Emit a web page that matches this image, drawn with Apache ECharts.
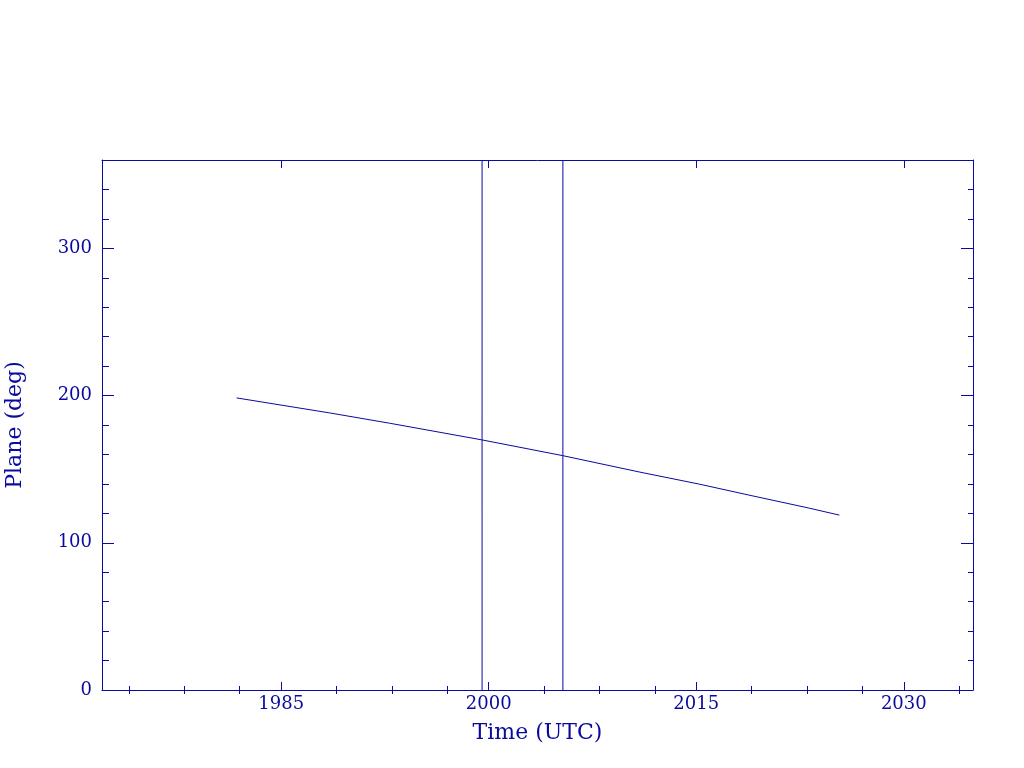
<!DOCTYPE html>
<html>
<head>
<meta charset="utf-8">
<script src="https://cdn.jsdelivr.net/npm/echarts@6/dist/echarts.min.js"></script>
<style>
  html, body { margin: 0; padding: 0; background: #ffffff; }
  #chart { width: 1024px; height: 768px; }
</style>
</head>
<body>
<div id="chart"></div>
<script>
// ---- data ----
const years = [1981.78, 1988.51, 1992.84, 1999.50, 2005.34, 2010.87, 2015.19, 2018.80, 2023.13, 2025.34];
const planeDeg = [198.4, 188.2, 181.2, 169.9, 159.2, 148.1, 139.9, 132.4, 123.6, 118.8];
const markerYears = [1999.52, 2005.36];
const xMajorTicks = [1985, 2000, 2015, 2030];
const xMinorTicks = [1974, 1978, 1982, 1989, 1993, 1997, 2004, 2008, 2012, 2019, 2023, 2027, 2034];
const xRange = [1972.05, 2035];
const yRange = [0, 360];
const xTitle = 'Time (UTC)';
const yTitle = 'Plane (deg)';

const C = '#0a0a9e';
const FONT = 'DejaVu Serif';

const chart = echarts.init(document.getElementById('chart'), null, { renderer: 'canvas' });

function xAx(pos, ticks, len, opts) {
  return Object.assign({
    type: 'value', position: pos, min: xRange[0], max: xRange[1],
    axisLine: { show: false },
    axisTick: { show: true, inside: true, length: len, customValues: ticks, lineStyle: { color: C, width: 1 } },
    axisLabel: { show: false },
    splitLine: { show: false }
  }, opts || {});
}

const option = {
  backgroundColor: '#ffffff',
  animation: false,
  grid: { left: 102, top: 160, width: 871, height: 530, show: false, containLabel: false, outerBoundsMode: 'none' },
  xAxis: [
    xAx('bottom', xMajorTicks, 8, {
      axisLine: { show: true, onZero: false, lineStyle: { color: C, width: 1 } },
      axisLabel: { show: true, customValues: xMajorTicks, color: C, fontFamily: FONT, fontSize: 18, margin: 5,
        formatter: v => String(Math.round(v)) },
      name: xTitle, nameLocation: 'middle', nameGap: 32,
      nameTextStyle: { color: C, fontFamily: FONT, fontSize: 22 }
    }),
    xAx('bottom', xMinorTicks, 4),
    xAx('top', xMajorTicks, 8, { axisLine: { show: true, onZero: false, lineStyle: { color: C, width: 1 } } }),
    xAx('top', xMinorTicks, 4)
  ],
  yAxis: [
    {
      type: 'value', position: 'left', min: yRange[0], max: yRange[1], interval: 100,
      axisLine: { show: true, onZero: false, lineStyle: { color: C, width: 1 } },
      axisTick: { show: true, inside: true, length: 12, lineStyle: { color: C } },
      minorTick: { show: true, splitNumber: 5, length: 7, lineStyle: { color: C } },
      axisLabel: { show: true, color: C, fontFamily: FONT, fontSize: 18, margin: 10, showMaxLabel: false,
        formatter: v => String(v) },
      splitLine: { show: false },
      name: yTitle, nameLocation: 'middle', nameGap: 76,
      nameTextStyle: { color: C, fontFamily: FONT, fontSize: 22 }
    },
    {
      type: 'value', position: 'right', min: yRange[0], max: yRange[1], interval: 100,
      axisLine: { show: true, onZero: false, lineStyle: { color: C, width: 1 } },
      axisTick: { show: true, inside: true, length: 12, lineStyle: { color: C } },
      minorTick: { show: true, splitNumber: 5, length: 5, lineStyle: { color: C } },
      axisLabel: { show: false },
      splitLine: { show: false }
    }
  ],
  series: [
    {
      type: 'line', xAxisIndex: 0, yAxisIndex: 0,
      data: years.map((y, i) => [y, planeDeg[i]]),
      showSymbol: false, smooth: false,
      lineStyle: { color: C, width: 1 }
    }
  ].concat(markerYears.map(yr => ({
    type: 'line', xAxisIndex: 0, yAxisIndex: 0,
    data: [[yr, yRange[0]], [yr, yRange[1]]],
    showSymbol: false,
    lineStyle: { color: C, width: 1 }
  })))
};

chart.setOption(option);
</script>
</body>
</html>
